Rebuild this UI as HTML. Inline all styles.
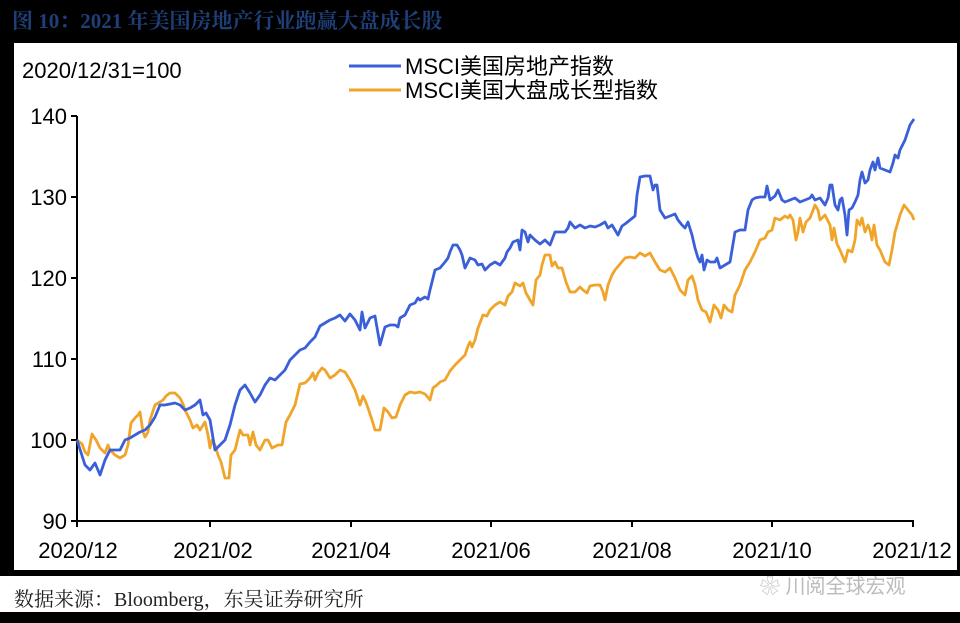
<!DOCTYPE html>
<html><head><meta charset="utf-8"><style>
html,body{margin:0;padding:0;background:#000;width:960px;height:623px;overflow:hidden;position:relative}
.t{position:absolute;white-space:nowrap}
</style></head><body>
<div class="t" style="left:12px;top:5px;font:bold 21px 'Liberation Serif','Noto Serif CJK SC',serif;color:#1f3f78;">图 10：2021 年美国房地产行业跑赢大盘成长股</div>
<div style="position:absolute;left:14px;top:43px;width:943px;height:527px;background:#fff;"></div>
<div style="position:absolute;left:0;top:576px;width:960px;height:36px;background:#fff;"></div>
<div class="t" style="left:14px;top:583px;font:20px 'Liberation Serif','Noto Serif CJK SC',serif;color:#222;">数据来源：Bloomberg，东吴证券研究所</div>
<div class="t" style="left:760px;top:570px;font:20px 'Liberation Sans','Noto Sans CJK SC',sans-serif;color:#bbb;">❀ 川阅全球宏观</div>
<svg width="960" height="623" style="position:absolute;left:0;top:0" font-family="Liberation Sans, Noto Sans CJK SC, sans-serif">
<text x="22" y="78" font-size="22" fill="#000">2020/12/31=100</text>
<line x1="349" y1="66" x2="401" y2="66" stroke="#3a5fd9" stroke-width="3"/>
<line x1="349" y1="90" x2="401" y2="90" stroke="#f0a52a" stroke-width="3"/>
<text x="405" y="74" font-size="22" fill="#000">MSCI美国房地产指数</text>
<text x="405" y="98" font-size="22" fill="#000">MSCI美国大盘成长型指数</text>
<g stroke="#000" stroke-width="2">
<line x1="77" y1="116" x2="77" y2="522"/>
<line x1="76" y1="521" x2="914" y2="521"/>
<line x1="71" y1="116" x2="77" y2="116"/><line x1="71" y1="197" x2="77" y2="197"/><line x1="71" y1="278" x2="77" y2="278"/><line x1="71" y1="359" x2="77" y2="359"/><line x1="71" y1="440" x2="77" y2="440"/><line x1="71" y1="521" x2="77" y2="521"/>
<line x1="77" y1="521" x2="77" y2="527"/><line x1="210" y1="521" x2="210" y2="527"/><line x1="351" y1="521" x2="351" y2="527"/><line x1="491" y1="521" x2="491" y2="527"/><line x1="632" y1="521" x2="632" y2="527"/><line x1="772" y1="521" x2="772" y2="527"/><line x1="913" y1="521" x2="913" y2="527"/>
</g>
<g font-size="22" fill="#000" text-anchor="end">
<text x="67" y="124">140</text><text x="67" y="205">130</text><text x="67" y="286">120</text><text x="67" y="367">110</text><text x="67" y="448">100</text><text x="67" y="529">90</text>
</g>
<g font-size="22" fill="#000" text-anchor="middle">
<text x="78" y="558">2020/12</text><text x="213" y="558">2021/02</text><text x="351" y="558">2021/04</text><text x="491" y="558">2021/06</text><text x="632" y="558">2021/08</text><text x="772" y="558">2021/10</text><text x="912" y="558">2021/12</text>
</g>
<polyline fill="none" stroke="#f0a52a" stroke-width="2.8" stroke-linejoin="round" points="77,440 82,444 85,452 88,455 92,434 96,440 100,448 105,453 108,445 110,450 115,455 120,458 125,455 128,445 131,423 135,418 138,415 140,412 143,432 145,437 148,432 150,420 155,405 160,402 163,400 166,396 170,393 175,393 180,398 183,404 185,410 190,420 193,428 197,425 200,430 205,422 208,435 210,448 212,440 215,445 218,455 221,462 225,478 229,478 231,455 235,450 240,430 243,435 248,435 250,445 253,432 256,445 260,450 265,440 268,440 272,448 278,445 282,445 286,422 290,415 295,405 300,384 305,383 310,378 313,373 315,380 318,373 322,368 325,370 330,378 335,375 340,370 345,372 350,380 355,390 360,405 363,396 365,400 368,408 372,420 375,430 380,430 384,408 388,412 392,418 396,417 400,405 405,395 410,392 415,393 420,392 425,394 430,400 433,388 437,385 440,382 445,380 450,371 455,365 460,360 465,355 468,346 470,342 472,347 475,340 478,328 483,315 487,316 490,310 495,305 500,302 505,305 508,296 512,292 515,283 520,286 523,283 526,293 530,300 533,305 536,280 540,275 542,265 545,255 550,255 552,266 555,262 558,268 562,268 566,282 570,292 575,292 580,287 583,290 587,293 590,286 595,285 600,285 603,292 605,300 608,285 612,275 615,270 620,264 625,258 630,257 635,258 640,253 645,256 650,253 655,262 660,270 665,272 670,268 675,278 680,290 685,295 688,280 692,276 695,285 698,300 702,310 706,312 710,322 714,305 718,310 721,318 724,305 728,310 732,312 735,295 740,285 745,270 750,262 755,252 760,240 765,238 768,232 772,230 775,218 780,220 785,216 788,218 790,215 793,220 796,240 798,232 800,218 803,232 806,222 810,218 815,205 818,210 820,220 825,215 830,225 832,240 834,228 837,244 840,250 845,262 848,250 852,252 855,240 857,220 860,225 862,218 865,232 868,225 870,230 872,240 874,225 877,245 880,250 885,262 889,265 892,250 895,232 898,222 900,215 904,205 908,210 912,215 914,220"/>
<polyline fill="none" stroke="#3a5fd9" stroke-width="2.8" stroke-linejoin="round" points="77,440 85,465 90,470 95,463 100,475 105,460 110,450 115,450 120,450 125,440 130,438 140,432 145,430 150,425 155,417 160,405 165,405 175,403 180,405 185,410 190,408 195,405 200,400 203,415 206,413 210,420 215,450 220,445 225,440 230,425 235,405 240,390 245,385 250,393 255,402 260,395 265,385 270,378 275,380 280,375 285,370 290,360 295,355 300,350 305,348 310,342 315,337 320,326 325,323 330,320 335,318 340,315 345,321 350,314 355,320 360,330 362,312 365,328 370,318 375,316 380,345 385,327 390,325 395,325 398,327 400,318 405,315 410,305 415,303 418,298 420,300 425,297 428,299 430,290 432,282 435,270 440,268 445,262 448,258 450,252 453,245 457,245 460,250 462,255 465,268 470,258 475,260 478,265 482,264 485,270 490,265 495,262 500,265 505,258 507,252 510,248 513,242 518,240 520,250 522,230 525,232 528,242 530,235 535,240 540,244 545,240 550,245 555,232 560,232 565,232 568,228 570,222 575,228 580,225 585,228 590,226 595,227 600,225 605,222 608,228 612,225 615,230 618,235 622,226 625,224 630,220 635,216 637,195 640,177 645,176 650,176 653,190 655,185 657,185 660,210 665,218 670,216 675,214 678,220 682,225 685,228 688,222 692,235 695,248 698,258 700,262 702,255 704,270 707,260 710,262 715,262 717,258 720,268 725,265 730,262 735,232 740,230 745,230 748,210 752,200 755,198 760,197 765,197 767,186 770,200 775,196 778,190 782,200 785,202 790,200 795,198 800,202 805,200 810,198 812,195 815,200 820,198 825,205 828,198 830,185 832,185 835,205 838,210 840,200 842,198 845,215 847,235 849,210 852,208 855,202 858,195 860,180 862,172 865,183 868,180 870,170 873,162 875,170 878,158 880,168 885,170 890,172 893,163 895,155 898,158 900,150 905,140 910,125 914,119"/>
</svg>
</body></html>
